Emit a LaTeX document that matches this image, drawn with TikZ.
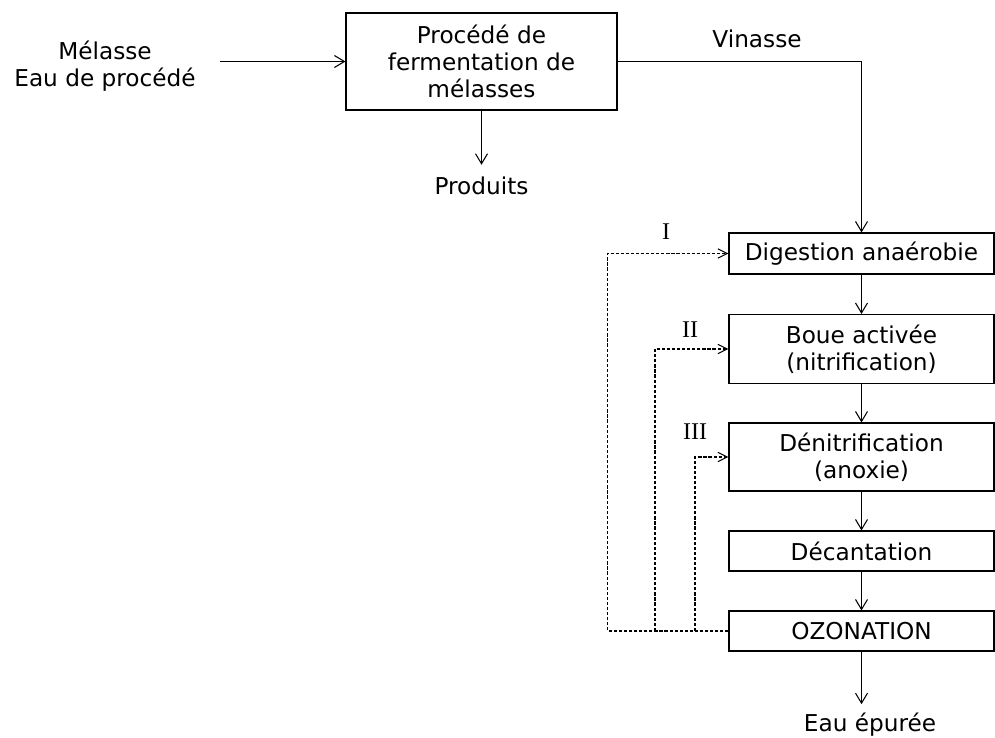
\documentclass[tikz,border=0pt]{standalone}
\usepackage{fontspec}
\setmainfont{DejaVu Sans}
\newfontfamily\romanfont{Liberation Serif}
\usetikzlibrary{arrows.meta, positioning}
\definecolor{linecolor}{RGB}{0,0,0}
\definecolor{boxfill}{RGB}{255,255,255}

\begin{document}
\begin{tikzpicture}[x=0.75pt, y=-0.75pt,
  % Node styles
  procbox/.style={
    rectangle,
    draw=linecolor,
    line width=0.8pt,
    fill=boxfill,
    align=center,
    inner sep=0pt,
    minimum width=198.75pt,
    font=\fontsize{17.4}{20.3}\selectfont
  },
  textlabel/.style={
    align=center,
    inner sep=9pt,
    font=\fontsize{17.4}{20.3}\selectfont
  },
  romanlabel/.style={
    inner sep=0pt,
    font=\romanfont\fontsize{18}{20}\selectfont
  },
  flow/.style={
    -{Straight Barb[length=7.5pt, width=9pt]},
    line width=0.8pt,
    draw=linecolor
  },
  feedback/.style={
    -{Straight Barb[length=7pt, width=7pt]},
    line width=0.8pt,
    draw=linecolor,
    dash pattern=on 2.4pt off 1.4pt
  }
]
\useasboundingbox (0,0) rectangle (995,738);

% ===== FERMENTATION =====
\node[procbox, minimum width=203.25pt, minimum height=72.75pt] (ferm) at (481.5,61.5)
  {Procédé de\\fermentation de\\mélasses};
\node[textlabel] (melasse) at (105,66) {Mélasse\\Eau de procédé};
\node[textlabel] (produits) at (481.5,186) {Produits};
\node[textlabel, inner sep=0pt] (vinasse) at (757,39) {Vinasse};

% ===== TREATMENT CHAIN =====
\node[procbox, minimum height=30.75pt] (digestion) at (861.5,253.5) {Digestion anaérobie};
\node[procbox, minimum height=51.75pt] (boue) at (861.5,349) {Boue activée\\(nitrification)};
\node[procbox, minimum height=51pt] (denit) at (861.5,457) {Dénitrification\\(anoxie)};
\node[procbox, minimum height=30pt] (decant) at (861.5,551) {Décantation};
\node[procbox, minimum height=30pt] (ozone) at (861.5,631) {OZONATION};
\node[textlabel, anchor=base, inner sep=0pt] (eau) at (870,731) {Eau épurée};

% ===== RECYCLE LABELS =====
\node[romanlabel] (labI) at (666,232) {I};
\node[romanlabel] (labII) at (690,330) {II};
\node[romanlabel] (labIII) at (695,432) {III};

% ===== ARROWS: main flow =====
\draw[flow, shorten <=9pt] (melasse.east |- ferm.west) -- (ferm.west);
\draw[flow] (ferm.south) -- (produits.north);
\draw[flow] (ferm.east) -| (digestion.north);
\draw[flow] (digestion) -- (boue);
\draw[flow] (boue) -- (denit);
\draw[flow] (denit) -- (decant);
\draw[flow] (decant) -- (ozone);
\draw[flow, shorten >=6pt] (ozone.south) -- (ozone.south |- eau.north);

% ===== Recycle arrows (ozonated effluent) =====
\coordinate (jII) at (655,631);
\coordinate (jIII) at (695,631);
\draw[feedback] (ozone.west) -- ++(-121,0) |- (digestion.west);
\draw[feedback] (jII) |- (boue.west);
\draw[feedback] (jIII) |- (denit.west);

\end{tikzpicture}
\end{document}
